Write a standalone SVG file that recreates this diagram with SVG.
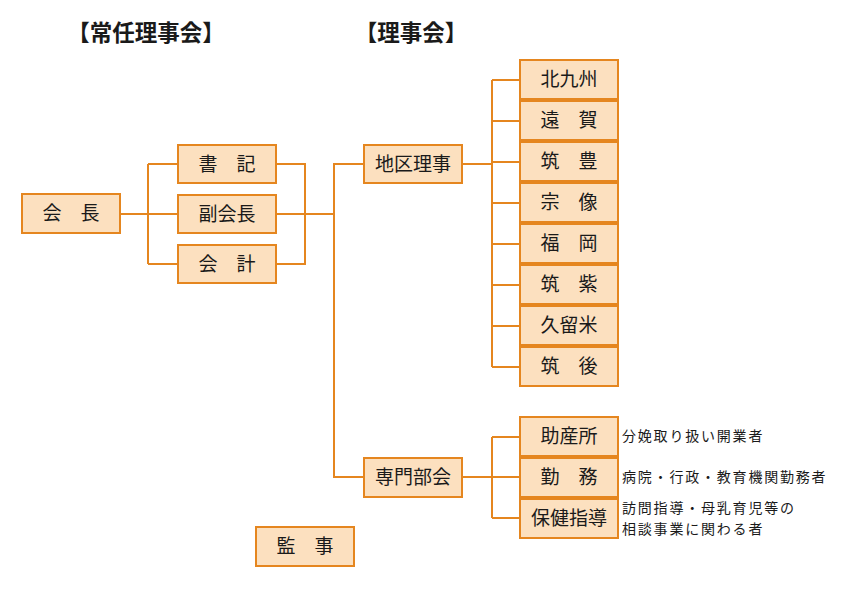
<svg xmlns="http://www.w3.org/2000/svg" width="842" height="595" viewBox="0 0 842 595">
<style>
.box rect{fill:#FCE0BF;stroke:#E5861F;stroke-width:2}
.box text{font-family:"Noto Sans CJK JP","Noto Sans CJK SC",sans-serif;font-size:19px;fill:#1a1a1a;text-anchor:middle}
.title{font-family:"Noto Sans CJK JP","Noto Sans CJK SC",sans-serif;font-size:22.5px;font-weight:bold;fill:#1a1a1a;text-anchor:middle}
.note{font-family:"Noto Sans CJK JP","Noto Sans CJK SC",sans-serif;font-size:14px;letter-spacing:1.8px;fill:#1a1a1a}
#connectors path{fill:none;stroke:#E5861F;stroke-width:2}
</style>
<rect width="842" height="595" fill="#ffffff"/>
<text class="title" x="146" y="41">【常任理事会】</text>
<text class="title" x="411" y="41">【理事会】</text>
<g id="connectors">
<path d="M120 214H148M148 164V264M148 164H178M148 214H178M148 264H178"/>
<path d="M276 164H305V264H276M276 214H334M334 163V478M334 164H364M334 477H364"/>
<path d="M462 164H492M492 80V367M492 80H520M492 121H520M492 162H520M492 203H520M492 244H520M492 285H520M492 326H520M492 367H520"/>
<path d="M462 477H492M492 437V518M492 437H520M492 477H520M492 518H520"/>
</g>
<g id="kaicho" class="box"><rect x="22" y="194" width="98" height="39"/><text x="71" y="220">会　長</text></g>
<g id="shoki" class="box"><rect x="178" y="145" width="98" height="38"/><text x="227" y="170.5">書　記</text></g>
<g id="fukukaicho" class="box"><rect x="178" y="195" width="98" height="38"/><text x="227" y="220.5">副会長</text></g>
<g id="kaikei" class="box"><rect x="178" y="245" width="98" height="38"/><text x="227" y="270.5">会　計</text></g>
<g id="chiku" class="box"><rect x="364" y="145" width="98" height="38"/><text x="413" y="170.5">地区理事</text></g>
<g id="senmon" class="box"><rect x="364" y="458" width="98" height="39"/><text x="413" y="484">専門部会</text></g>
<g id="kanji" class="box"><rect x="256" y="527" width="98" height="39"/><text x="305" y="553">監　事</text></g>
<g id="kitakyushu" class="box"><rect x="520" y="60" width="98" height="39"/><text x="569" y="86">北九州</text></g>
<g id="onga" class="box"><rect x="520" y="101" width="98" height="39"/><text x="569" y="127">遠　賀</text></g>
<g id="chikuho" class="box"><rect x="520" y="142" width="98" height="39"/><text x="569" y="168">筑　豊</text></g>
<g id="munakata" class="box"><rect x="520" y="183" width="98" height="39"/><text x="569" y="209">宗　像</text></g>
<g id="fukuoka" class="box"><rect x="520" y="224" width="98" height="39"/><text x="569" y="250">福　岡</text></g>
<g id="chikushi" class="box"><rect x="520" y="265" width="98" height="39"/><text x="569" y="291">筑　紫</text></g>
<g id="kurume" class="box"><rect x="520" y="306" width="98" height="39"/><text x="569" y="332">久留米</text></g>
<g id="chikugo" class="box"><rect x="520" y="347" width="98" height="39"/><text x="569" y="373">筑　後</text></g>
<g id="josanjo" class="box"><rect x="520" y="417" width="98" height="39"/><text x="569" y="443">助産所</text></g>
<g id="kinmu" class="box"><rect x="520" y="458" width="98" height="39"/><text x="569" y="484">勤　務</text></g>
<g id="hoken" class="box"><rect x="520" y="499" width="98" height="39"/><text x="569" y="525">保健指導</text></g>
<text class="note" x="622" y="441">分娩取り扱い開業者</text>
<text class="note" x="622" y="482">病院・行政・教育機関勤務者</text>
<text class="note" x="622" y="513"><tspan x="622" y="513">訪問指導・母乳育児等の</tspan><tspan x="622" y="534">相談事業に関わる者</tspan></text>
</svg>
